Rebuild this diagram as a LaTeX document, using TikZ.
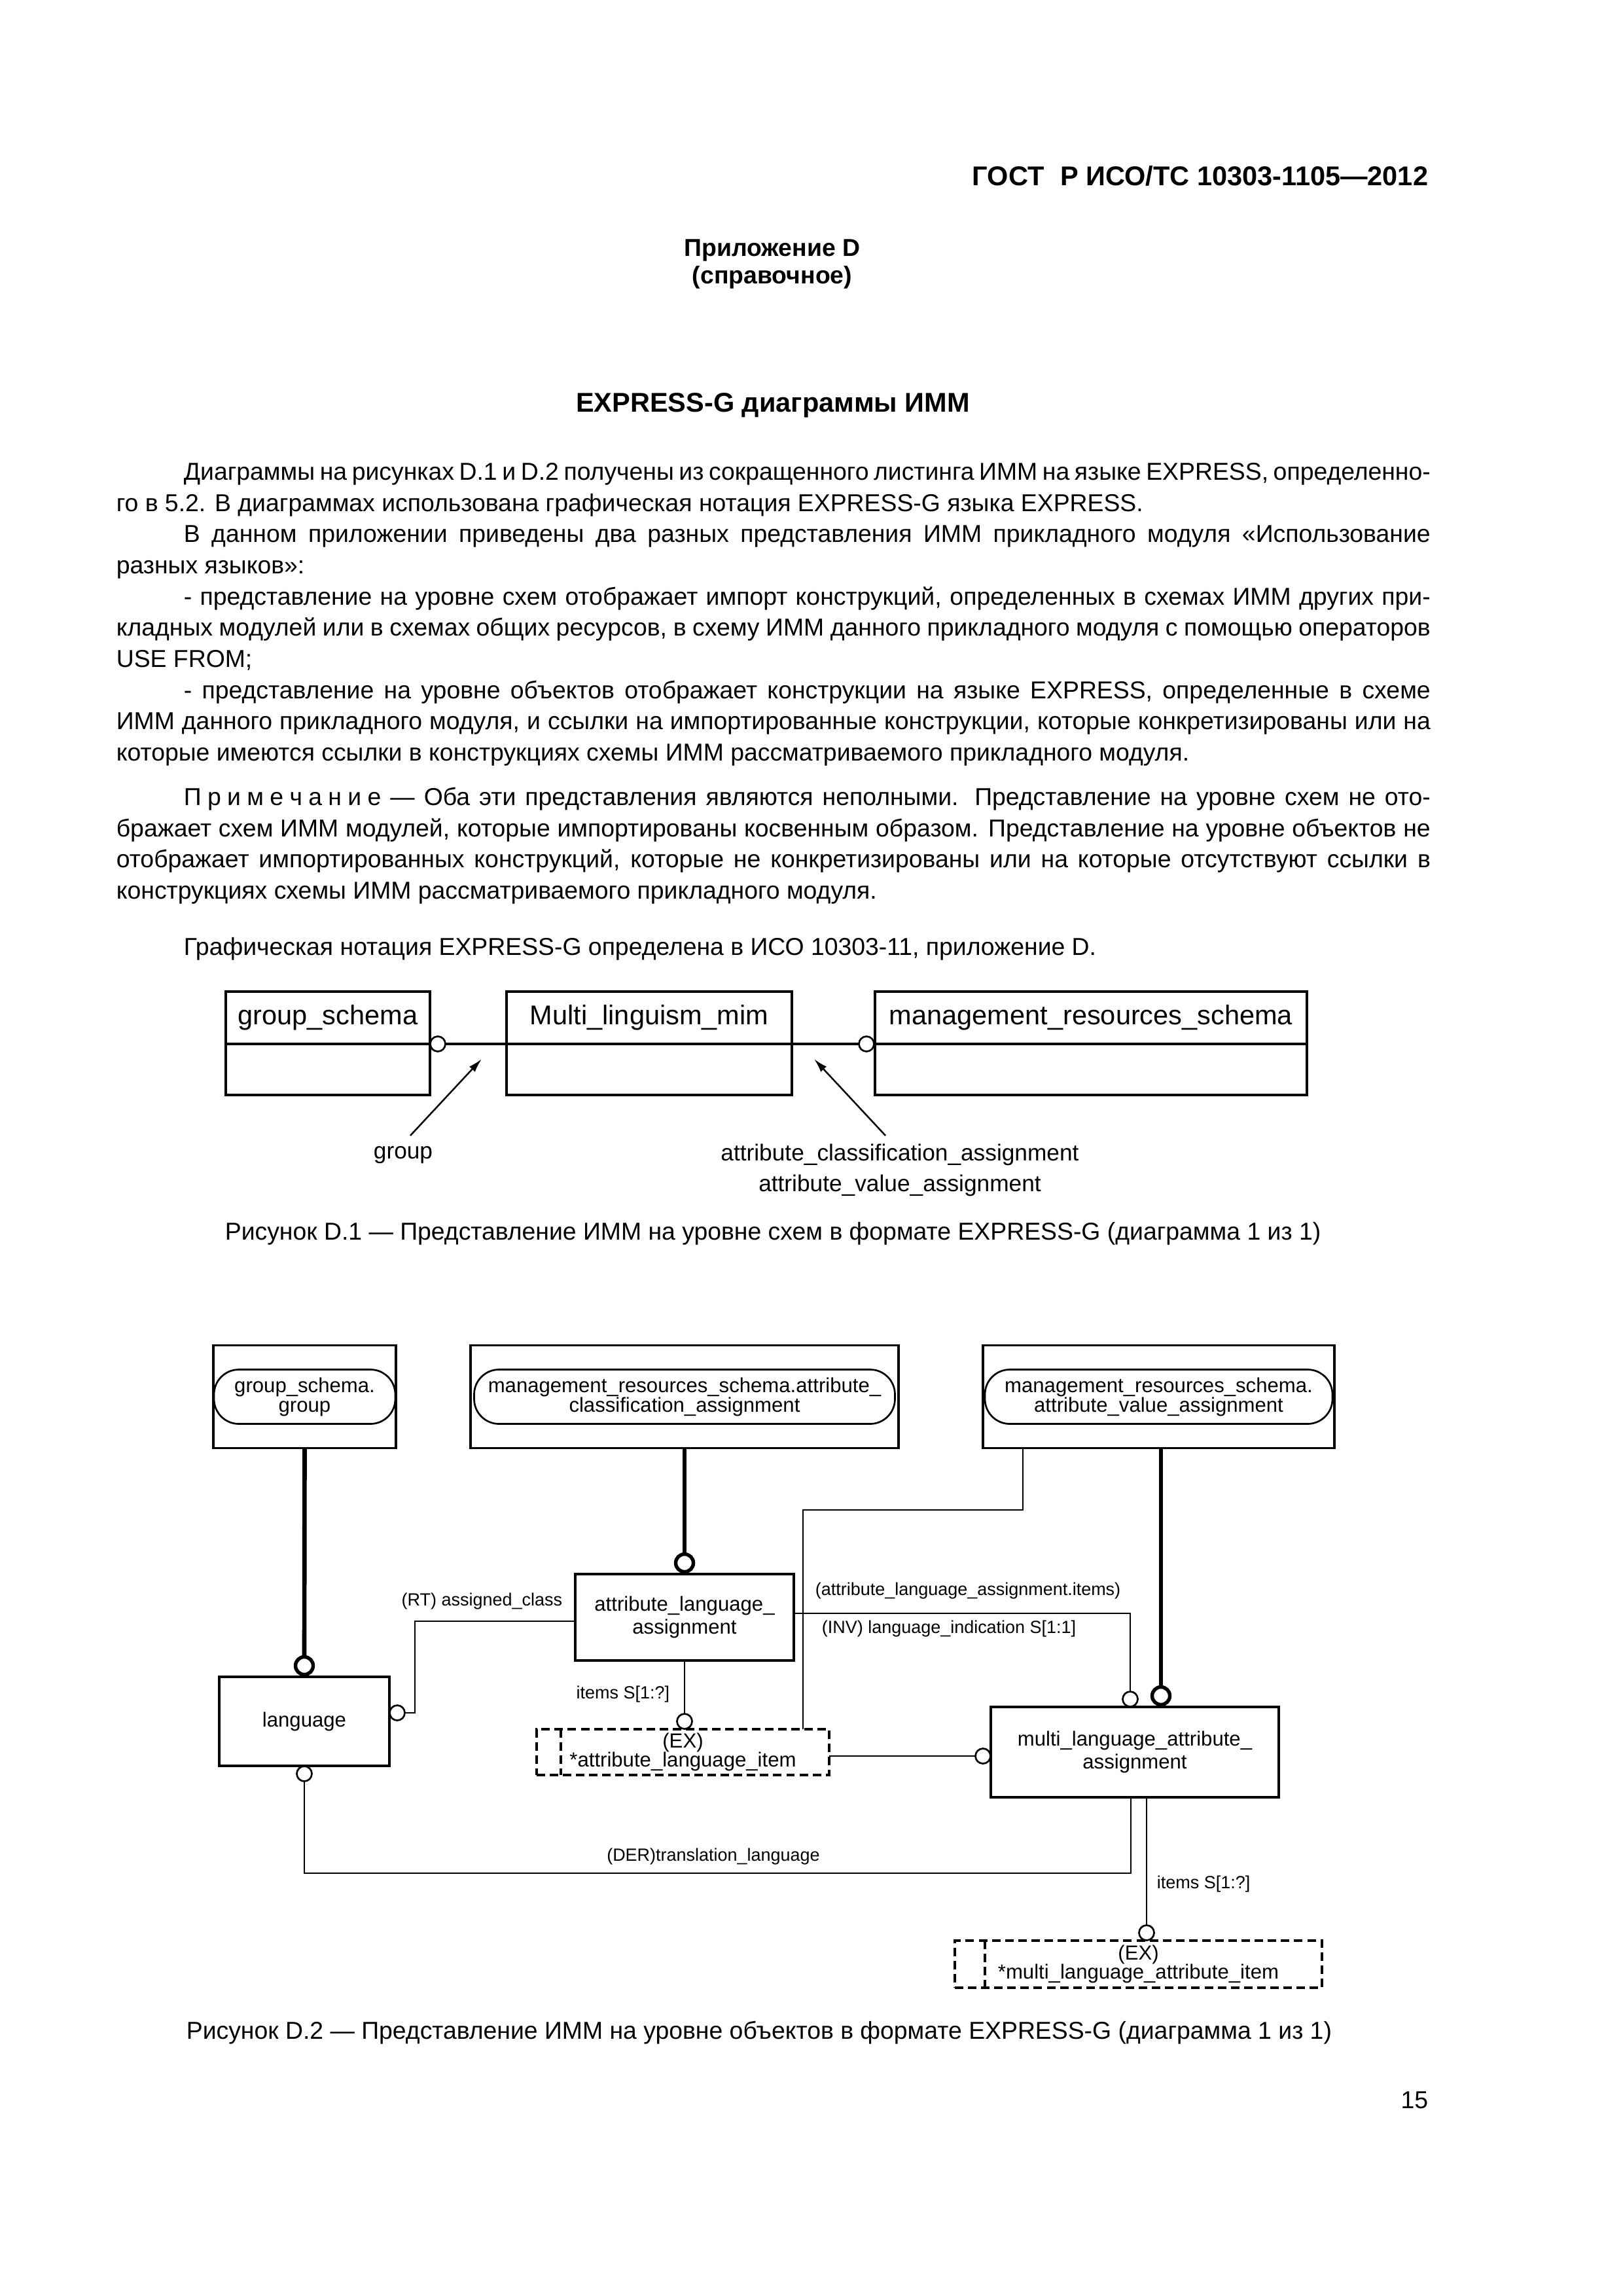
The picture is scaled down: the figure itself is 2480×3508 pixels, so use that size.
\documentclass[tikz,border=0pt]{standalone}
\usepackage{fontspec}
\setmainfont{Liberation Sans}
\usetikzlibrary{positioning,arrows.meta}
\newdimen\upx
\upx=0.084667mm
\lineskiplimit=-10pt
\tikzset{
    TX/.style ={inner sep=0pt, anchor=base west, font=\fontsize{9}{11.45}\selectfont},
    HD/.style ={inner sep=0pt, anchor=base, font=\fontsize{9}{11}\selectfont\bfseries},
    SB1/.style ={rectangle, draw, line width=0.8pt, inner sep=0pt, outer sep=0pt, minimum height=80\upx, font=\fontsize{10}{12}\selectfont},
    SB2/.style ={rectangle, draw, line width=0.8pt, inner sep=0pt, outer sep=0pt, minimum height=78\upx},
    HV/.style ={line width=0.8pt},
    PT/.style ={line width=0.6pt, -{Latex[length=1.8mm,width=1mm]}},
    LB/.style ={inner sep=0pt, align=center, font=\fontsize{8.5}{11.3}\selectfont},
    UR/.style ={rectangle, draw, line width=0.8pt, inner sep=0pt, outer sep=0pt, minimum height=157\upx},
    ST/.style ={rectangle, rounded corners=38\upx, draw, line width=0.65pt, inner sep=0pt, minimum height=83\upx, align=center, font=\fontsize{7.5}{7.2}\selectfont},
    EN/.style ={rectangle, draw, line width=0.8pt, inner sep=0pt, outer sep=0pt, align=center, font=\fontsize{7.5}{8.5}\selectfont},
    EXB/.style ={rectangle, draw, line width=0.8pt, dash pattern=on 1.1mm off 0.6mm, inner sep=0pt, outer sep=0pt, align=center, font=\fontsize{7.5}{6.8}\selectfont},
    EXL/.style ={line width=0.8pt, dash pattern=on 1.1mm off 0.6mm},
    OC1/.style ={circle, draw, fill=white, line width=0.65pt, inner sep=0pt, outer sep=0pt, minimum size=23\upx},
    OC2/.style ={circle, draw, fill=white, line width=1.3pt, inner sep=0pt, outer sep=0pt, minimum size=27\upx},
    TN/.style ={line width=0.65pt},
    TK/.style ={line width=1.6pt},
    RL/.style ={inner sep=0pt, font=\fontsize{6.5}{7.5}\selectfont}}

\begin{document}
\begin{tikzpicture}[x=1\upx, y=-1\upx]
    \useasboundingbox (0,0) rectangle (2480,3508);
    % page head
    \node[TX, anchor=base east, font=\fontsize{10}{12}\selectfont\bfseries] (gost) at (2183,283) {ГОСТ\hspace{0.6em}Р ИСО/ТС 10303-1105—2012};
    \node[HD] (app) at (1180,391) {Приложение D};
    \node[HD] (appk) at (1180,433) {(справочное)};
    \node[HD, font=\fontsize{10}{12}\selectfont\bfseries] (ttl) at (1181,629) {EXPRESS-G диаграммы ИММ};
    % text
    \node[TX] (p1a) at (280,733) {\makebox[1905\upx][s]{Диаграммы на рисунках D.1 и D.2 получены из сокращенного листинга ИММ на языке EXPRESS, определенно-}};
    \node[TX] (p1b) at (177,781) {го в 5.2. В диаграммах использована графическая нотация EXPRESS-G языка EXPRESS.};
    \node[TX] (p2a) at (280,828) {\makebox[1905\upx][s]{В данном приложении приведены два разных представления ИММ прикладного модуля «Использование}};
    \node[TX] (p2b) at (177,876) {разных языков»:};
    \node[TX] (p3a) at (280,924) {\makebox[1905\upx][s]{- представление на уровне схем отображает импорт конструкций, определенных в схемах ИММ других при-}};
    \node[TX] (p3b) at (177,971) {\makebox[2008\upx][s]{кладных модулей или в схемах общих ресурсов, в схему ИММ данного прикладного модуля с помощью операторов}};
    \node[TX] (p3c) at (177,1019) {USE FROM;};
    \node[TX] (p4a) at (280,1067) {\makebox[1905\upx][s]{- представление на уровне объектов отображает конструкции на языке EXPRESS, определенные в схеме}};
    \node[TX] (p4b) at (177,1114) {\makebox[2008\upx][s]{ИММ данного прикладного модуля, и ссылки на импортированные конструкции, которые конкретизированы или на}};
    \node[TX] (p4c) at (177,1162) {которые имеются ссылки в конструкциях схемы ИММ рассматриваемого прикладного модуля.};
    \node[TX] (n1) at (280,1230) {\makebox[1905\upx][s]{П\kern.25em р\kern.25em и\kern.25em м\kern.25em е\kern.25em ч\kern.25em а\kern.25em н\kern.25em и\kern.25em е — Оба эти представления являются неполными. Представление на уровне схем не ото-}};
    \node[TX] (n2) at (177,1278) {\makebox[2008\upx][s]{бражает схем ИММ модулей, которые импортированы косвенным образом. Представление на уровне объектов не}};
    \node[TX] (n3) at (177,1325) {\makebox[2008\upx][s]{отображает импортированных конструкций, которые не конкретизированы или на которые отсутствуют ссылки в}};
    \node[TX] (n4) at (177,1373) {конструкциях схемы ИММ рассматриваемого прикладного модуля.};
    \node[TX] (p5) at (280,1459) {Графическая нотация EXPRESS-G определена в ИСО 10303-11, приложение D.};
    % figure D.1
    \node[SB1, minimum width=312\upx] (gs) at (501,1555) {group\_schema};
    \node[SB2, minimum width=312\upx, below=0pt of gs] (gsb) {};
    \node[SB1, minimum width=436\upx] (mm) at (992,1555) {Multi\_linguism\_mim};
    \node[SB2, minimum width=436\upx, below=0pt of mm] (mmb) {};
    \node[SB1, minimum width=660\upx] (mr) at (1667,1555) {management\_resources\_schema};
    \node[SB2, minimum width=660\upx, below=0pt of mr] (mrb) {};
    \node[OC1] (gsc) at (669,1595) {};
    \node[OC1] (mrc) at (1324,1595) {};
    \draw[HV] (mm.south west) -- (gsc.east);
    \draw[HV] (mm.south east) -- (mrc.west);
    \node[LB] (grp) at (616,1765) {group};
    \node[LB] (aca) at (1375,1788) {attribute\_classification\_assignment\\attribute\_value\_assignment};
    \coordinate (gtip) at (736,1618);
    \coordinate (gtail) at (627,1735);
    \coordinate (atip) at (1244,1618);
    \coordinate (atail) at (1353,1735);
    \draw[PT] (gtail) -- (gtip);
    \draw[PT] (atail) -- (atip);
    \node[TX] (cap1) at (343,1894) {Рисунок D.1 — Представление ИММ на уровне схем в формате EXPRESS-G (диаграмма 1 из 1)};
    % figure D.2
    \node[UR, minimum width=279\upx] (ugs) at (465.5,2134) {};
    \node[ST, minimum width=277\upx] (ugst) at (ugs.center) {group\_schema.\\group};
    \node[UR, minimum width=654\upx] (uca) at (1046,2134) {};
    \node[ST, minimum width=643\upx] (ucat) at (uca.center) {management\_resources\_schema.attribute\_\\classification\_assignment};
    \node[UR, minimum width=537\upx] (uva) at (1770.5,2134) {};
    \node[ST, minimum width=531\upx] (uvat) at (uva.center) {management\_resources\_schema.\\attribute\_value\_assignment};
    \node[EN, minimum width=334\upx, minimum height=132\upx] (ala) at (1046,2471) {attribute\_language\_\\assignment};
    \node[EN, minimum width=260\upx, minimum height=136\upx] (lang) at (465,2630) {language};
    \node[EN, minimum width=440\upx, minimum height=138\upx] (mla) at (1734,2677) {multi\_language\_attribute\_\\assignment};
    \node[EXB, minimum width=447\upx, minimum height=70\upx] (ali) at (1043.5,2677) {(EX)\\*attribute\_language\_item};
    \draw[EXL] ([xshift=37\upx]ali.north west) -- ([xshift=37\upx]ali.south west);
    \node[EXB, minimum width=561\upx, minimum height=72\upx] (mli) at (1739.5,3001) {(EX)\\*multi\_language\_attribute\_item};
    \draw[EXL] ([xshift=46\upx]mli.north west) -- ([xshift=46\upx]mli.south west);
    \node[OC2] (lc) at (465,2545) {};
    \node[OC2] (alc) at (1046,2388) {};
    \node[OC2] (mlc2) at (1774,2591) {};
    \node[OC1] (mic) at (1727,2596) {};
    \node[OC1] (lrc) at (607,2617) {};
    \node[OC1] (ldc) at (465,2710) {};
    \node[OC1] (alic) at (1046,2630) {};
    \node[OC1] (mlc1) at (1502,2683) {};
    \node[OC1] (mlic) at (1752,2953) {};
    \draw[TK] (ugs.south) -- (lc.north);
    \draw[TK] (uca.south) -- (alc.north);
    \draw[TK] (uva.south -| mlc2) -- (mlc2.north);
    \draw[TN] (uva.south -| 1563,0) |- (1227,2307) -- (ali.north -| 1227,0);
    \draw[TN] (ala.west |- 0,2477) -| (634,2617) -- (lrc.east);
    \draw[TN] (ala.south) -- (alic.north);
    \draw[TN] (mlc1.west -| ali.east) -- (mlc1.west);
    \draw[TN] (ala.east |- 0,2465) -| (mic.north);
    \draw[TN] (ldc.south) |- (1728,2862) -- (mla.south -| 1728,0);
    \draw[TN] (mla.south -| mlic) -- (mlic.north);
    \node[RL, anchor=east] (rtl) at (860,2446) {(RT) assigned\_class};
    \node[RL, anchor=east] (itl1) at (1024,2588) {items S[1:?]};
    \node[RL, anchor=west] (alil) at (1245,2430) {(attribute\_language\_assignment.items)};
    \node[RL, anchor=west] (invl) at (1255,2488) {(INV) language\_indication S[1:1]};
    \node[RL] (derl) at (1090,2836) {(DER)translation\_language};
    \node[RL, anchor=west] (itl2) at (1767,2878) {items S[1:?]};
    \node[TX] (cap2) at (284,3115) {Рисунок D.2 — Представление ИММ на уровне объектов в формате EXPRESS-G (диаграмма 1 из 1)};
    \node[TX, anchor=base east] (pg) at (2183,3221) {15};
\end{tikzpicture}
\end{document}
